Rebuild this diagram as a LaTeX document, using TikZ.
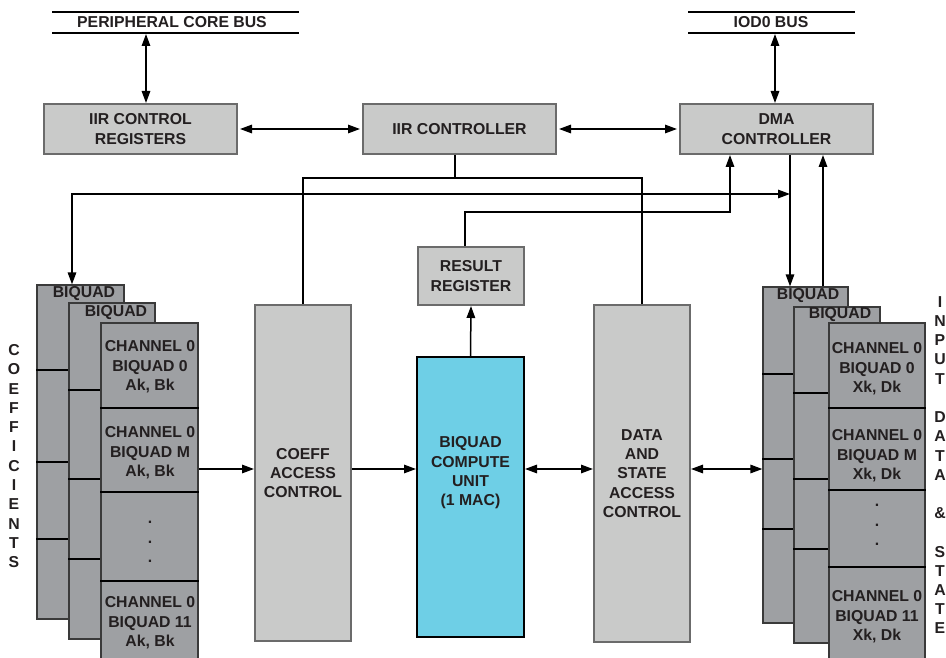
\documentclass[tikz,border=0pt]{standalone}
\usepackage{fontspec}
\setmainfont{Liberation Sans}
\usetikzlibrary{arrows.meta,calc}
\definecolor{boxfill}{HTML}{C9CAC9}
\definecolor{boxline}{HTML}{6B6B6B}
\definecolor{stackfill}{HTML}{9EA0A3}
\definecolor{stackline}{HTML}{3A3A3A}
\definecolor{cyanfill}{HTML}{6ECFE6}
\definecolor{txt}{HTML}{231F20}
\tikzset{
  lbl/.style={font=\fontsize{15.8}{19.3}\selectfont\bfseries, text=txt, align=center, inner sep=0pt},
  lightbox/.style={draw=boxline, line width=2pt, fill=boxfill, lbl},
  cbox/.style={draw=black, line width=2pt, fill=cyanfill},
  layer/.style={draw=stackline, line width=1.3pt, fill=stackfill},
  divl/.style={draw=black, line width=1.3pt},
  wire/.style={draw=black, line width=1.5pt},
  tip/.style={wire, -{Triangle[length=12pt,width=8.5pt]}},
  dtip/.style={wire, {Triangle[length=12pt,width=8.5pt]}-{Triangle[length=12pt,width=8.5pt]}},
  busline/.style={draw=black, line width=2pt}
}
\begin{document}
\begin{tikzpicture}[x=1pt,y=-1pt]
\clip (0,0) rectangle (946,658);
\fill[white] (0,0) rectangle (946,658);

% buses
\coordinate (pb1) at (52,12); \coordinate (pb2) at (299,12);
\coordinate (pb3) at (52,33); \coordinate (pb4) at (299,33);
\draw[busline] (pb1) -- (pb2); \draw[busline] (pb3) -- (pb4);
\node[lbl] (pcbt) at (172,22) {PERIPHERAL CORE BUS};
\coordinate (io1) at (688,12); \coordinate (io2) at (855,12);
\coordinate (io3) at (688,33); \coordinate (io4) at (855,33);
\draw[busline] (io1) -- (io2); \draw[busline] (io3) -- (io4);
\node[lbl] (iodt) at (771,22) {IOD0 BUS};
\coordinate (pcb) at (146,34);
\coordinate (iod) at (775,34);

% top boxes
\node[lightbox, minimum width=193pt, minimum height=50pt] (icr) at (140.5,129) {IIR CONTROL\\REGISTERS};
\node[lightbox, minimum width=193pt, minimum height=50pt] (iirc) at (459.5,129) {IIR CONTROLLER};
\node[lightbox, minimum width=193pt, minimum height=50pt] (dma) at (776.5,129) {DMA\\CONTROLLER};

\draw[dtip] (pcb) -- (pcb |- icr.north);
\draw[dtip] (iod) -- (iod |- dma.north);
\draw[dtip, shorten <=2pt, shorten >=2pt] (icr.east) -- (iirc.west);
\draw[dtip, shorten <=2pt, shorten >=2pt] (iirc.east) -- (dma.west);

% middle boxes
\node[lightbox, minimum width=106pt, minimum height=58pt] (res) at (471,276) {RESULT\\REGISTER};
\node[lightbox, minimum width=96pt, minimum height=336pt] (coeff) at (303,473) {COEFF\\ACCESS\\CONTROL};
\node[cbox, minimum width=107pt, minimum height=280pt] (comp) at (470.5,497) {};
\node[lbl] (comptxt) at (470.5,473) {BIQUAD\\COMPUTE\\UNIT\\(1 MAC)};
\node[lightbox, minimum width=96pt, minimum height=337pt] (data) at (642,473.5) {DATA\\AND\\STATE\\ACCESS\\CONTROL};

% left stack
\node[layer, minimum width=87pt, minimum height=334pt] (l1) at (80.5,452) {};
\foreach \yy in {370,462,539} \draw[divl] (l1.west |- 0,\yy) -- (l1.east |- 0,\yy);
\node[lbl] (l1t) at (84,294) {BIQUAD};
\node[layer, minimum width=86pt, minimum height=336pt] (l2) at (112,471) {};
\foreach \yy in {390,479,559} \draw[divl] (l2.west |- 0,\yy) -- (l2.east |- 0,\yy);
\node[lbl] (l2t) at (116,313) {BIQUAD};
\node[layer, minimum width=97pt, minimum height=347pt] (l3) at (149.5,496.5) {};
\foreach \yy in {408,492,581} \draw[divl] (l3.west |- 0,\yy) -- (l3.east |- 0,\yy);
\node[lbl] (lb1) at (150,367) {CHANNEL 0\\BIQUAD 0\\Ak, Bk};
\node[lbl] (lb2) at (150,453) {CHANNEL 0\\BIQUAD M\\Ak, Bk};
\node[lbl] (lb3) at (150,542) {.\\.\\.};
\node[lbl] (lb4) at (150,623) {CHANNEL 0\\BIQUAD 11\\Ak, Bk};

% right stack
\node[layer, minimum width=85pt, minimum height=336pt] (r1) at (805.5,455) {};
\foreach \yy in {374,459,529} \draw[divl] (r1.west |- 0,\yy) -- (r1.east |- 0,\yy);
\node[lbl] (r1t) at (808,296) {BIQUAD};
\node[layer, minimum width=86pt, minimum height=336pt] (r2) at (837,475) {};
\foreach \yy in {393,479,549} \draw[divl] (r2.west |- 0,\yy) -- (r2.east |- 0,\yy);
\node[lbl] (r2t) at (840,315) {BIQUAD};
\node[layer, minimum width=96pt, minimum height=347pt] (r3) at (877,496.5) {};
\foreach \yy in {408,490,567} \draw[divl] (r3.west |- 0,\yy) -- (r3.east |- 0,\yy);
\node[lbl] (rb1) at (877,369) {CHANNEL 0\\BIQUAD 0\\Xk, Dk};
\node[lbl] (rb2) at (877,456) {CHANNEL 0\\BIQUAD M\\Xk, Dk};
\node[lbl] (rb3) at (877,525) {.\\.\\.};
\node[lbl] (rb4) at (877,617) {CHANNEL 0\\BIQUAD 11\\Xk, Dk};

% vertical labels
\foreach \ch [count=\i from 0] in {C,O,E,F,F,I,C,I,E,N,T,S}
  \node[lbl] (cl\i) at (14,{350+19.3*\i}) {\ch};
\foreach \ch [count=\i from 0] in {I,N,P,U,T,{},D,A,T,A,{},\&,{},S,T,A,T,E}
  \node[lbl] (il\i) at (940,{302+19.2*\i}) {\ch};

% connectors
\coordinate (t) at (455,178);
\draw[wire] (iirc.south -| t) -- (t);
\draw[wire] (coeff.north) |- (t) -| (data.north);

\coordinate (lL) at (72,194);
\coordinate (lR) at (790,194);
\draw[dtip] (l1.north -| lL) -- (lL) -- (lR);

\coordinate (rr) at (730,212);
\draw[tip] (res.north -| 465,0) |- (rr) -- (dma.south -| rr);

\draw[tip] (dma.south -| lR) -- (r1.north -| lR);
\coordinate (up) at (823,0);
\draw[tip] (r1.north -| up) -- (dma.south -| up);

\draw[tip] (comp.north) -- (res.south);

\coordinate (m) at (0,469);
\draw[tip] (l3.east |- m) -- (coeff.west |- m);
\draw[tip] (coeff.east |- m) -- (comp.west |- m);
\draw[dtip] (comp.east |- m) -- (data.west |- m);
\draw[dtip] (data.east |- m) -- (r1.west |- m);
\end{tikzpicture}
\end{document}
